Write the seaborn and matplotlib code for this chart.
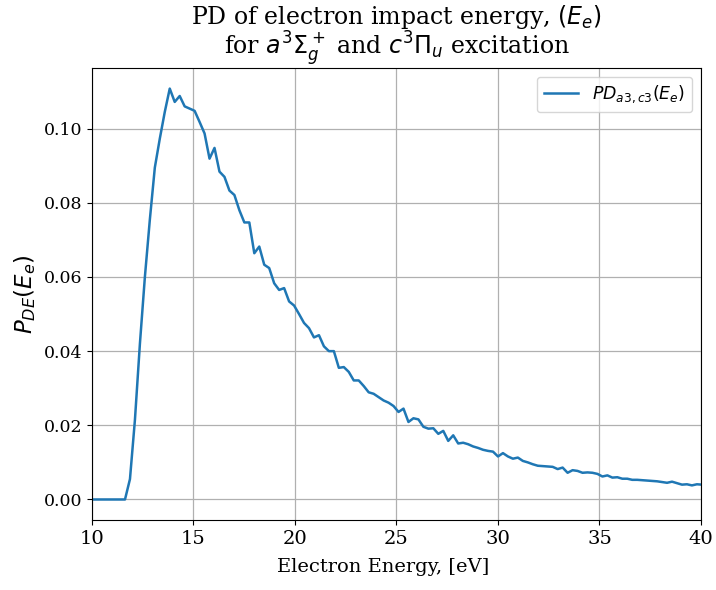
import numpy as np
import pandas as pd
import seaborn as sns
import matplotlib
matplotlib.use('Agg')
import matplotlib.pyplot as plt

# energy grid (eV), roughly 0.245 eV spacing
e_start = 9.91
e_step = 0.245

pd_values = [
    0.0, 0.0, 0.0, 0.0, 0.0, 0.0, 0.0, 0.0,
    0.0055, 0.0215, 0.0420, 0.0600, 0.0755, 0.0895, 0.0973, 0.1045,
    0.1108, 0.1072, 0.1088, 0.1060, 0.1054, 0.1048, 0.1018, 0.0987,
    0.0919, 0.0948, 0.0884, 0.0870, 0.0833, 0.0821, 0.0780, 0.0747,
    0.0747, 0.0664, 0.0682, 0.0633, 0.0624, 0.0583, 0.0565, 0.0570,
    0.0534, 0.0523, 0.0500, 0.0476, 0.0462, 0.0437, 0.0443, 0.0413,
    0.0400, 0.0400, 0.0355, 0.0357, 0.0344, 0.0321, 0.0321, 0.0306,
    0.0289, 0.0285, 0.0276, 0.0267, 0.0261, 0.0252, 0.0236, 0.0245,
    0.0209, 0.0219, 0.0216, 0.0196, 0.0191, 0.0192, 0.0177, 0.0185,
    0.0158, 0.0173, 0.0151, 0.0153, 0.0149, 0.0143, 0.0139, 0.0134,
    0.0131, 0.0129, 0.0116, 0.0125, 0.0116, 0.0110, 0.0113, 0.0104,
    0.0100, 0.0095, 0.0091, 0.0090, 0.0089, 0.0088, 0.0082, 0.0086,
    0.0072, 0.0079, 0.0077, 0.0072, 0.0073, 0.0072, 0.0069, 0.0062,
    0.0065, 0.0059, 0.0060, 0.0056, 0.0056, 0.0053, 0.0053, 0.0052,
    0.0051, 0.0050, 0.0049, 0.0047, 0.0045, 0.0048, 0.0044, 0.0040,
    0.0041, 0.0038, 0.0041, 0.0040, 0.0039,
]
energy = np.round(e_start + e_step * np.arange(len(pd_values)), 3)

data = pd.DataFrame({'energy': energy, 'pd': pd_values})

plt.rcParams['font.family'] = ['DejaVu Serif']
plt.rcParams['mathtext.fontset'] = 'dejavusans'

fig = plt.figure(figsize=(7.16, 5.9), dpi=100)
ax = fig.add_axes([0.1285, 0.1186, 0.8505, 0.7661])

sns.lineplot(x='energy', y='pd', data=data, ax=ax, color='tab:blue',
             linewidth=1.8, label=r'$PD_{a3,c3}(E_e)$')

ax.set_xlim(10, 40)
ax.grid(True, color='#b0b0b0', linewidth=0.9)
ax.set_title('PD of electron impact energy, $(E_e)$\nfor $a^3\\Sigma_g^+$ and $c^3\\Pi_u$ excitation',
             fontsize=17, linespacing=0.95, pad=5)
ax.set_xlabel('Electron Energy, [eV]', fontsize=14)
ax.xaxis.set_label_coords(0.478, -0.085)
ax.set_ylabel(r'$P_{DE}(E_e)$', fontsize=16.5)
ax.tick_params(axis='x', labelsize=14)
ax.tick_params(axis='y', labelsize=12.5)
ax.legend(loc='upper right', fontsize=12.5)

fig.savefig('out.png', dpi=100)
